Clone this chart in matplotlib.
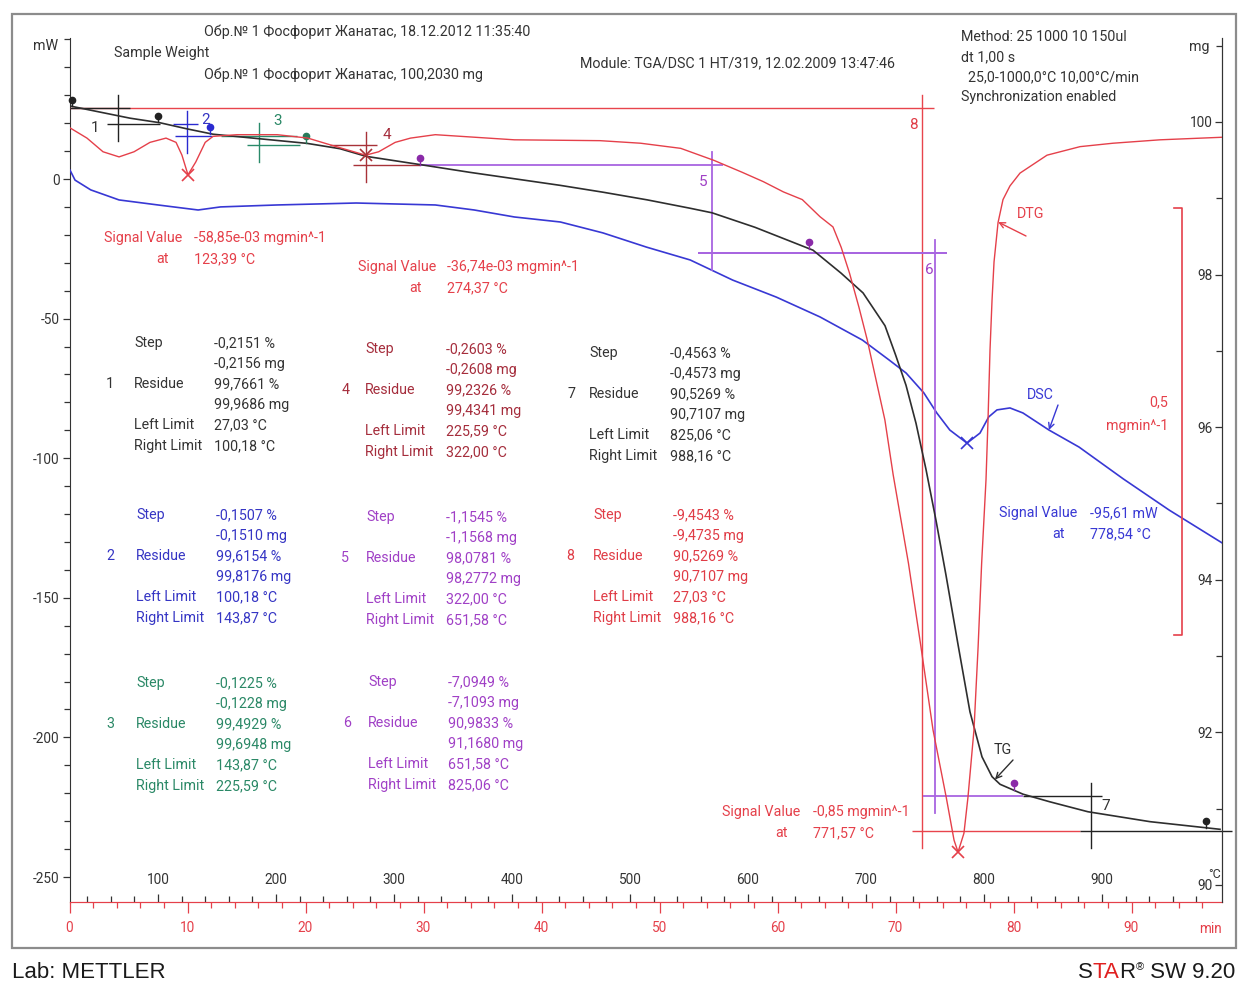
import numpy as np
import matplotlib
matplotlib.use('Agg')
import matplotlib.pyplot as plt
from matplotlib.ticker import FixedLocator, FormatStrFormatter
from matplotlib.offsetbox import TextArea, HPacker, AnnotationBbox
from matplotlib.patches import Rectangle

plt.rcParams['axes.unicode_minus'] = False
FAM = ['Roboto', 'DejaVu Sans']
plt.rcParams['font.family'] = FAM

W, H = 1238, 986

# ---------------- data ----------------
# TG curve (sample mass, mg) vs temperature (°C)
tg_T = [25.4, 50.8, 76.3, 101.7, 124.6, 146.6, 186.4, 226.3, 254.2, 276.3, 322.9, 364.4,
        440.7, 477.1, 514.4, 550.8, 569.5, 605.9, 655.1, 678.8, 697.5, 716.1, 725.0, 733.9,
        742.4, 750.8, 759.3, 767.8, 778.0, 788.1, 798.3, 806.8, 813.6, 833.1, 855.9, 888.1,
        940.7, 1000.0]
tg_mg = [100.21, 100.13, 100.05, 99.99, 99.91, 99.84, 99.78, 99.72, 99.65, 99.55, 99.44, 99.34,
         99.17, 99.08, 98.98, 98.87, 98.81, 98.62, 98.32, 98.02, 97.76, 97.33, 96.95, 96.55,
         96.05, 95.45, 94.78, 94.06, 93.15, 92.27, 91.68, 91.42, 91.32, 91.19, 91.09, 90.96,
         90.83, 90.73]

# DTG curve (mg/min)
dtg_T = [25.4, 39.8, 53.4, 67.0, 79.7, 93.2, 106.8, 115.3, 120.3, 125.4,
         132.0, 140.0, 146.6, 167.0, 201.0, 227.0, 251.0, 276.0, 287.0, 301.0,
         314.0, 335.0, 402.0, 474.6, 509.0, 543.0, 571.0, 595.0, 613.0, 630.0,
         646.0, 661.0, 672.0, 679.0, 686.0, 694.0, 701.0, 708.5, 716.0, 723.0,
         736.0, 746.6, 756.8, 768.0, 774.6, 778.0, 783.0, 786.4, 791.5, 795.0,
         798.0, 801.7, 803.4, 805.1, 806.8, 808.5, 811.9, 816.1, 822.0, 830.5,
         853.4, 881.4, 909.3, 949.2, 1002.0]
dtg_v = [-0.001, -0.013, -0.029, -0.035, -0.029, -0.018, -0.013, -0.018, -0.033, -0.056,
         -0.041, -0.018, -0.011, -0.009, -0.009, -0.013, -0.023, -0.033, -0.029, -0.018,
         -0.013, -0.009, -0.015, -0.016, -0.019, -0.025, -0.039, -0.053, -0.064, -0.076,
         -0.085, -0.105, -0.117, -0.141, -0.171, -0.211, -0.249, -0.296, -0.343, -0.407,
         -0.511, -0.609, -0.706, -0.785, -0.835, -0.849, -0.827, -0.785, -0.706, -0.609,
         -0.511, -0.413, -0.343, -0.261, -0.203, -0.158, -0.112, -0.085, -0.069, -0.054,
         -0.033, -0.023, -0.019, -0.015, -0.012]

# DSC curve (mW)
dsc_T = [25.4, 29.7, 43.0, 67.0, 100.0, 134.0, 153.0, 201.0, 268.0, 335.0,
         368.0, 402.0, 441.0, 477.0, 514.0, 551.0, 587.0, 624.0, 661.0, 697.0,
         719.5, 734.0, 749.0, 760.0, 771.0, 785.6, 796.6, 804.0, 811.0, 822.0,
         833.0, 855.0, 880.5, 918.0, 957.0, 1002.0]
dsc_mW = [3.2, -0.4, -3.9, -7.5, -9.3, -11.1, -10.0, -9.3, -8.6, -9.3,
          -11.1, -13.6, -15.4, -19.3, -24.4, -29.0, -36.2, -42.3, -49.4, -57.7,
          -64.8, -69.5, -76.6, -83.8, -89.9, -94.6, -91.0, -85.2, -82.7, -82.0,
          -83.8, -89.9, -96.0, -107.4, -118.6, -130.4]

# step evaluation results
step_ids = ['1', '2', '3', '4', '5', '6', '7', '8']
limit_T = [27.03, 100.18, 143.87, 225.59, 322.00, 651.58, 825.06, 988.16]
residue_levels = [100.1842, 99.9686, 99.8176, 99.6948, 99.4341, 98.2772, 91.1680, 90.7107]
step_pct = ['-0,2151 %', '-0,1507 %', '-0,1225 %', '-0,2603 %', '-1,1545 %', '-7,0949 %', '-0,4563 %', '-9,4543 %']
step_mg = ['-0,2156 mg', '-0,1510 mg', '-0,1228 mg', '-0,2608 mg', '-1,1568 mg', '-7,1093 mg', '-0,4573 mg', '-9,4735 mg']
res_pct = ['99,7661 %', '99,6154 %', '99,4929 %', '99,2326 %', '98,0781 %', '90,9833 %', '90,5269 %', '90,5269 %']
res_mg = ['99,9686 mg', '99,8176 mg', '99,6948 mg', '99,4341 mg', '98,2772 mg', '91,1680 mg', '90,7107 mg', '90,7107 mg']
left_lim = ['27,03 °C', '100,18 °C', '143,87 °C', '225,59 °C', '322,00 °C', '651,58 °C', '825,06 °C', '27,03 °C']
right_lim = ['100,18 °C', '143,87 °C', '225,59 °C', '322,00 °C', '651,58 °C', '825,06 °C', '988,16 °C', '988,16 °C']

# axis ticks
temp_major = [100, 200, 300, 400, 500, 600, 700, 800, 900]
time_major = [0, 10, 20, 30, 40, 50, 60, 70, 80, 90]
mw_major = [-250, -200, -150, -100, -50, 0]
mg_major = [90, 92, 94, 96, 98, 100]

# ---------------- style ----------------
C_TG = '#2e2e2e'
C_DTG = '#e5404a'
C_DSC = '#3838d4'
C_AX = '#333333'
step_line_col = ['#222222', '#2a2ad0', '#2a8a6a', '#a83238', '#a865e0', '#a865e0', '#222222', '#e8444c']
step_text_col = ['#333333', '#3535c4', '#2a8866', '#a52d3c', '#a040c6', '#a040c6', '#333333', '#e03c46']
pin_col = ['#222222', '#222222', '#2a2ad0', '#2a7a5a', '#8a2aa8', '#8a2aa8', '#8a2aa8', '#222222']
FS = 10.3
TFS = 9.8

fig = plt.figure(figsize=(W / 100, H / 100), dpi=100)
fig.patch.set_facecolor('white')


def fx(x):
    return x / W


def fy(y):
    return 1 - y / H


def put(x, y, s, color=C_AX, ha='left', size=FS, **kw):
    fig.text(fx(x), fy(y), s, color=color, ha=ha, va='center', fontsize=size, **kw)


# outer frame
fig.add_artist(Rectangle((fx(12), fy(948)), (1236 - 12) / W, (948 - 14) / H,
                         transform=fig.transFigure, fill=False, ec='#8c8c8c', lw=1.6))

# main axes: x = temperature, y = mW (DSC)
x0, x1 = 25.0, 1002.0
ax = fig.add_axes([69.5 / W, (H - 902) / H, (x1 - x0) * 1.18 / W, 864 / H])
ax.set_xlim(x0, x1)
ax.set_ylim((179 - 902) / 2.792, (179 - 38) / 2.792)
ax.patch.set_alpha(0)

# TG axis (mg) on the right
ax2 = ax.twinx()
ax2.set_ylim(100 - (902 - 122) / 76.3, 100 + (122 - 38) / 76.3)
# DTG axis (hidden)
ax3 = ax.twinx()
ax3.set_ylim((127 - 902) / 854.0, (127 - 38) / 854.0)
ax3.set_axis_off()

ax.spines['top'].set_visible(False)
ax.spines['left'].set_color(C_AX)
ax.spines['right'].set_color(C_AX)
ax.spines['bottom'].set_color(C_DTG)
for s in ['top', 'left', 'bottom']:
    ax2.spines[s].set_visible(False)
ax2.spines['right'].set_color(C_AX)

# left mW axis
ax.yaxis.set_major_locator(FixedLocator(mw_major))
ax.yaxis.set_minor_locator(FixedLocator(np.arange(-250, 51, 10)))
ax.yaxis.set_major_formatter(FormatStrFormatter('%d'))
ax.tick_params(axis='y', which='major', direction='out', length=5, width=0.9, pad=2,
               colors=C_AX, labelsize=TFS)
ax.tick_params(axis='y', which='minor', direction='out', length=4, width=0.9, colors=C_AX)

# temperature ticks (inside, labels above the line)
ax.xaxis.set_major_locator(FixedLocator(temp_major))
ax.xaxis.set_minor_locator(FixedLocator(np.arange(40, 1000, 20)))
ax.xaxis.set_major_formatter(FormatStrFormatter('%d'))
ax.tick_params(axis='x', which='major', direction='in', length=6, width=0.9, pad=-21,
               color=C_AX, labelcolor=C_AX, labelsize=TFS)
ax.tick_params(axis='x', which='minor', direction='in', length=4, width=0.9, color=C_AX)

# time axis (min)
tax = ax.secondary_xaxis('bottom', functions=(lambda T: (np.asarray(T) - 25.0) / 10.0,
                                              lambda t: np.asarray(t) * 10.0 + 25.0))
tax.spines['bottom'].set_color(C_DTG)
tax.xaxis.set_major_locator(FixedLocator(time_major))
tax.xaxis.set_minor_locator(FixedLocator(np.arange(0, 97, 2)))
tax.xaxis.set_major_formatter(FormatStrFormatter('%d'))
tax.tick_params(axis='x', which='major', direction='out', length=8, width=0.9, pad=6,
                color=C_DTG, labelcolor=C_DTG, labelsize=TFS)
tax.tick_params(axis='x', which='minor', direction='out', length=4, width=0.9, color=C_DTG)

# right mg axis (ticks and labels inside)
ax2.yaxis.set_major_locator(FixedLocator(mg_major))
ax2.yaxis.set_minor_locator(FixedLocator(np.arange(90, 102, 1)))
ax2.yaxis.set_major_formatter(FormatStrFormatter('%d'))
ax2.tick_params(axis='y', which='major', direction='in', length=5, width=0.9, pad=-7,
                colors=C_AX, labelsize=TFS)
ax2.tick_params(axis='y', which='minor', direction='in', length=4, width=0.9, colors=C_AX)
for t in ax2.yaxis.get_major_ticks():
    t.label2.set_horizontalalignment('right')

# ---------------- step construction lines ----------------
step_upper_T = [(25.4, 76.3), (113, 134), (153, 218), (246, 286), (322, 579), (558, 769), (833, 900), (25.2, 758)]
step_lower_T = [(57, 101.7), (114, 146), (175, 220), (265, 322), (558, 769), (748, 833), (881, 1010), (739, 881)]
step_mid_T = [66.1, 124.6, 185.6, 276.3, 569.5, 758.5, 890.7, 747.5]
order = [7, 0, 1, 2, 3, 4, 5, 6]
for i in order:
    hi = residue_levels[0] if i == 7 else residue_levels[i]
    lo = residue_levels[7] if i == 7 else residue_levels[i + 1]
    c = step_line_col[i]
    lw = 1.3 if i in (4, 5) else 1.0
    ax2.plot(step_upper_T[i], [hi, hi], color=c, lw=lw, clip_on=False, solid_capstyle='butt')
    ax2.plot(step_lower_T[i], [lo, lo], color=c, lw=lw, clip_on=False, solid_capstyle='butt')
    ax2.plot([step_mid_T[i]] * 2, [hi + 0.17, lo - 0.22], color=c, lw=lw, clip_on=False)

# ---------------- curves ----------------
ax.plot(dsc_T, dsc_mW, color=C_DSC, lw=1.2, zorder=3)
ax3.plot(dtg_T, dtg_v, color=C_DTG, lw=1.0, zorder=3)
ax2.plot(tg_T, tg_mg, color=C_TG, lw=1.2, zorder=4)

# pins at evaluation limits on TG
for Tl, c in zip(limit_T, pin_col):
    v = np.interp(Tl, tg_T, tg_mg)
    ax2.plot([Tl, Tl], [v, v + 0.08], color=c, lw=1.0, zorder=5, clip_on=False)
    ax2.plot([Tl], [v + 0.09], 'o', color=c, ms=4.5, zorder=5, clip_on=False)

# signal value markers (X)
dT = np.asarray(dtg_T)
dV = np.asarray(dtg_v)
for lo_T, hi_T, c in [(100, 150, C_DTG), (250, 300, '#a83238'), (700, 850, C_DTG)]:
    m = (dT >= lo_T) & (dT <= hi_T)
    k = np.argmin(dV[m])
    ax3.plot(dT[m][k], dV[m][k], 'x', color=c, ms=8, mew=1.2, zorder=6)
sT = np.asarray(dsc_T)
sV = np.asarray(dsc_mW)
m = (sT >= 700) & (sT <= 850)
k = np.argmin(sV[m])
ax.plot(sT[m][k], sV[m][k], 'x', color=C_DSC, ms=8, mew=1.2, zorder=6)

# DTG scale bar 0,5 mg/min
ax3.plot([961.0, 967.8, 967.8, 961.0], [-0.0948, -0.0948, -0.5948, -0.5948], color=C_DTG, lw=1.2)
put(1168, 402, '0,5', C_DTG, ha='right')
put(1168, 426, 'mgmin^-1', C_DTG, ha='right')

# curve labels with arrows
fig.text(fx(1003), fy(750), 'TG', color=C_TG, ha='center', va='center', fontsize=FS)
ax2.annotate('', xy=(809.3, np.interp(809.3, tg_T, tg_mg)), xytext=(1013, H - 760), textcoords='figure pixels',
             arrowprops=dict(arrowstyle='->', color=C_TG, lw=1.0, shrinkA=0, shrinkB=0))
fig.text(fx(1031), fy(214), 'DTG', color=C_DTG, ha='center', va='center', fontsize=FS)
ax3.annotate('', xy=(812.0, np.interp(812.0, dtg_T, dtg_v)), xytext=(1026, H - 236), textcoords='figure pixels',
             arrowprops=dict(arrowstyle='->', color=C_DTG, lw=1.0, shrinkA=0, shrinkB=0))
fig.text(fx(1040), fy(395), 'DSC', color=C_DSC, ha='center', va='center', fontsize=FS)
ax.annotate('', xy=(855.0, np.interp(855.0, dsc_T, dsc_mW)), xytext=(1058, H - 405), textcoords='figure pixels',
            arrowprops=dict(arrowstyle='->', color=C_DSC, lw=1.0, shrinkA=0, shrinkB=0))

# step number labels near the constructions
for (x, y), sid, c in zip([(95, 128), (206, 120), (278, 121), (387, 135), (703, 182), (929, 270), (1106, 806), (913, 125)],
                          step_ids, step_text_col):
    put(x, y, sid, c, ha='center', size=11)

# ---------------- step result blocks ----------------
block_pos = [(110, 134, 214, 343), (110, 136, 216, 515), (110, 136, 216, 683), (346, 365, 446, 349),
             (345, 366, 446, 517), (347, 368, 448, 682), (571, 589, 670, 353), (570, 593, 673, 515)]
row_dy = 20.6
for i, (nx, lx, vx, ty) in enumerate(block_pos):
    c = step_text_col[i]
    labels = ['Step', '', 'Residue', '', 'Left Limit', 'Right Limit']
    vals = [step_pct[i], step_mg[i], res_pct[i], res_mg[i], left_lim[i], right_lim[i]]
    for r in range(6):
        y = ty + r * row_dy
        if labels[r]:
            put(lx, y, labels[r], c)
        put(vx, y, vals[r], c)
    put(nx, ty + 2 * row_dy, step_ids[i], c, ha='center')

# ---------------- signal value labels ----------------
sig = [(104, 194, 238, '-58,85e-03 mgmin^-1', '123,39 °C', C_DTG),
       (358, 447, 267, '-36,74e-03 mgmin^-1', '274,37 °C', C_DTG),
       (999, 1090, 513, '-95,61 mW', '778,54 °C', C_DSC),
       (722, 813, 812, '-0,85 mgmin^-1', '771,57 °C', C_DTG)]
for lx, vx, y, v1, v2, c in sig:
    put(lx, y, 'Signal Value', c)
    put(vx, y, v1, c)
    put(vx - 25, y + 21, 'at', c, ha='right')
    put(vx, y + 21, v2, c)

# ---------------- header ----------------
put(204, 32, 'Обр.№ 1 Фосфорит Жанатас, 18.12.2012 11:35:40')
put(114, 53, 'Sample Weight')
put(204, 75, 'Обр.№ 1 Фосфорит Жанатас, 100,2030 mg')
put(580, 63, 'Module: TGA/DSC 1 HT/319, 12.02.2009 13:47:46')
put(961, 37, 'Method: 25 1000 10 150ul')
put(961, 57, 'dt 1,00 s')
put(968, 77, '25,0-1000,0°C 10,00°C/min')
put(961, 97, 'Synchronization enabled')
put(33, 46, 'mW')
put(1189, 47, 'mg')
put(1215, 875, '°C', ha='center', size=9)
put(1210, 929, 'min', C_DTG, ha='center', size=TFS)

# ---------------- footer ----------------
fig.text(fx(12), fy(973), 'Lab: METTLER', color='#1a1a1a', ha='left', va='center',
         fontsize=16, family=['Liberation Sans', 'DejaVu Sans'])
tp = dict(fontsize=16, family=['Liberation Sans', 'DejaVu Sans'], color='#1a1a1a')
parts = [TextArea('S', textprops=tp),
         TextArea('TA', textprops=dict(tp, color='#e02020')),
         TextArea('R', textprops=tp),
         TextArea('®', textprops=dict(tp, fontsize=8)),
         TextArea(' SW 9.20', textprops=tp)]
pack = HPacker(children=parts, align='top', pad=0, sep=0)
ab = AnnotationBbox(pack, (1235, H - 973), xycoords='figure pixels', box_alignment=(1, 0.5),
                    frameon=False, pad=0)
fig.add_artist(ab)

fig.savefig('out.png', dpi=100, facecolor='white')
